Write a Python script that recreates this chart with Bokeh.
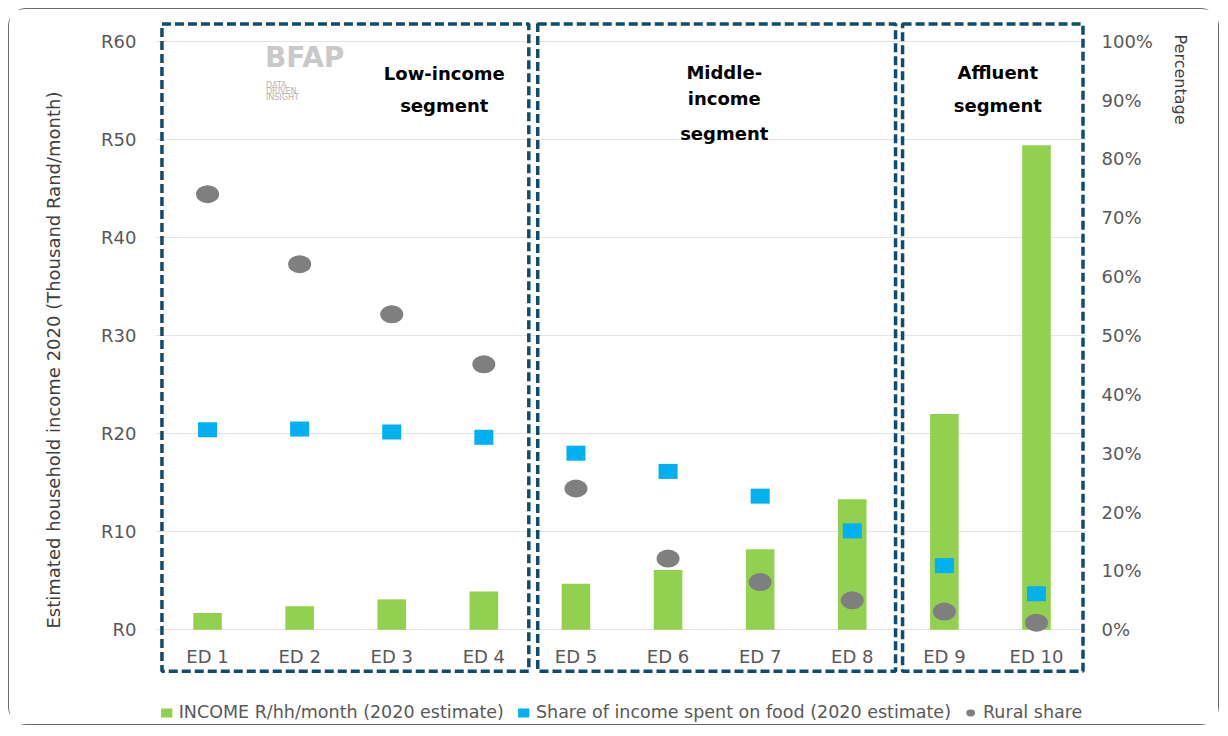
import math
from bokeh.plotting import figure
from bokeh.models import Range1d, LinearAxis, FixedTicker, Legend, LegendItem, Title
from bokeh.core.properties import value
from bokeh.embed import file_html
from bokeh.resources import INLINE

# ---------------- data ----------------
categories = ["ED 1", "ED 2", "ED 3", "ED 4", "ED 5", "ED 6", "ED 7", "ED 8", "ED 9", "ED 10"]
income = [1.7, 2.4, 3.1, 3.9, 4.7, 6.1, 8.2, 13.3, 22.0, 49.4]          # R thousand / hh / month
food_share = [34.0, 34.1, 33.6, 32.7, 30.0, 26.9, 22.7, 16.8, 10.9, 6.1]  # %
rural_share = [74.0, 62.1, 53.6, 45.1, 24.0, 12.1, 8.1, 5.0, 3.1, 1.2]   # %

left_ticks = [0, 10, 20, 30, 40, 50, 60]
left_tick_labels = ["R0", "R10", "R20", "R30", "R40", "R50", "R60"]
right_ticks = [0, 10, 20, 30, 40, 50, 60, 70, 80, 90, 100]
right_tick_labels = ["0%", "10%", "20%", "30%", "40%", "50%", "60%", "70%", "80%", "90%", "100%"]

segment_names = [["Low-income", "segment"], ["Middle-", "income", "segment"], ["Affluent", "segment"]]
segment_first = [0, 4, 8]
segment_last = [3, 7, 9]

series_names = ["INCOME R/hh/month (2020 estimate)",
                "Share of income spent on food (2020 estimate)",
                "Rural share"]
left_title = "Estimated household income 2020 (Thousand Rand/month)"
right_title = "Percentage"

# ---------------- styling / layout ----------------
FONT = "DejaVu Sans"
GREEN = "#92d050"
BLUE = "#00b0f0"
GREY = "#7f7f7f"
BOX = "#0f4c6e"
TXT = "#595959"

y_lo, y_hi = -9.86, 62.92
pct_scale = 100.0 / 60.0

p = figure(width=1211, height=717, output_backend="svg", toolbar_location=None,
           x_range=Range1d(-0.565, 9.543), y_range=Range1d(y_lo, y_hi),
           x_axis_location=None,
           min_border_left=137, min_border_right=134, min_border_top=3, min_border_bottom=0,
           background_fill_color="white", border_fill_color="white",
           styles={"margin-left": "8px", "margin-top": "8px",
                   "border": "1.5px solid #6b6b6b", "border-radius": "18px"})
p.outline_line_color = None
p.extra_y_ranges = {"pct": Range1d(y_lo * pct_scale, y_hi * pct_scale)}

# left axis
ax = p.yaxis[0]
ax.ticker = FixedTicker(ticks=left_ticks)
ax.major_label_overrides = {t: l for t, l in zip(left_ticks, left_tick_labels)}
ax.axis_line_color = None
ax.major_tick_line_color = None
ax.minor_tick_line_color = None
ax.major_label_text_font = FONT
ax.major_label_text_font_size = "18px"
ax.major_label_text_color = TXT
ax.major_label_standoff = 13

# right axis
rax = LinearAxis(y_range_name="pct", ticker=FixedTicker(ticks=right_ticks),
                 major_label_overrides={t: l for t, l in zip(right_ticks, right_tick_labels)})
rax.axis_line_color = None
rax.major_tick_line_color = None
rax.minor_tick_line_color = None
rax.major_label_text_font = FONT
rax.major_label_text_font_size = "18px"
rax.major_label_text_color = TXT
rax.major_label_standoff = 9
p.add_layout(rax, "right")

# axis titles (side titles so they sit where the reference has them)
p.add_layout(Title(text=left_title, align="left", vertical_align="top", offset=98, standoff=66,
                   text_font=FONT, text_font_size="18px", text_font_style="normal",
                   text_color="#404040"), "left")
p.add_layout(Title(text=right_title, align="left", offset=22, standoff=31,
                   text_font=FONT, text_font_size="16px", text_font_style="normal",
                   text_color="#404040"), "right")

p.xgrid.visible = False
p.ygrid.ticker = FixedTicker(ticks=left_ticks)
p.ygrid.grid_line_color = "#e4e4e4"
p.ygrid.grid_line_width = 1

x = list(range(len(categories)))

# segment boxes (dashed)
pad_left = [0.495, 0.415, 0.454]
pad_right = [0.488, 0.470, 0.505]
p.quad(left=[f - pl for f, pl in zip(segment_first, pad_left)],
       right=[l + pr for l, pr in zip(segment_last, pad_right)],
       top=[61.74] * 3, bottom=[-4.22] * 3,
       fill_alpha=0, line_color=BOX, line_width=3.5, line_dash="9 4")

# data marks
bars = p.vbar(x=x, top=income, bottom=0, width=0.31, fill_color=GREEN, line_color=None)
squares = p.rect(x=x, y=food_share, width=19, height=15, width_units="screen", height_units="screen",
                 y_range_name="pct", fill_color=BLUE, line_color=None)
dots = p.ellipse(x=x, y=rural_share, width=23, height=18, width_units="screen", height_units="screen",
                 y_range_name="pct", fill_color=GREY, line_color=None)

# category labels inside boxes
p.text(x=x, y=[-2.68] * len(x), text=categories, text_align="center", text_baseline="alphabetic",
       text_font=value(FONT), text_font_size="18px", text_color=TXT)

# segment titles
seg_x = [2.57, 5.61, 8.58]
seg_y = [[56.74, 53.48], [56.84, 54.19, 50.62], [56.84, 53.48]]
tx, ty, tt = [], [], []
for names, cx, ys in zip(segment_names, seg_x, seg_y):
    for n, yy in zip(names, ys):
        tx.append(cx); ty.append(yy); tt.append(n)
p.text(x=tx, y=ty, text=tt, text_align="center", text_baseline="alphabetic",
       text_font=value(FONT), text_font_size="18px", text_font_style="bold", text_color="black")

# logo text
p.text(x=[1.054], y=[58.33], text=["BFAP"], text_align="center", text_baseline="middle",
       text_font=value(FONT), text_font_size="28px", text_font_style="bold", text_color="#c9c9c9")
p.text(x=[0.634] * 3, y=[55.52, 54.9, 54.28], text=["DATA", "DRIVEN", "INSIGHT"],
       text_align="left", text_baseline="middle",
       text_font=value(FONT), text_font_size="8px", text_color="#b5b5b5")

# legend along the bottom
legend = Legend(items=[LegendItem(label=series_names[0], renderers=[bars]),
                       LegendItem(label=series_names[1], renderers=[squares]),
                       LegendItem(label=series_names[2], renderers=[dots])],
                orientation="horizontal", location="bottom_center",
                glyph_width=14, glyph_height=11, label_standoff=6, spacing=12,
                margin=4, padding=2, border_line_color=None, background_fill_alpha=0,
                label_text_font=FONT, label_text_font_size="17.5px", label_text_color=TXT)
p.add_layout(legend, "center")

open("out.html", "w").write(file_html(p, INLINE))
